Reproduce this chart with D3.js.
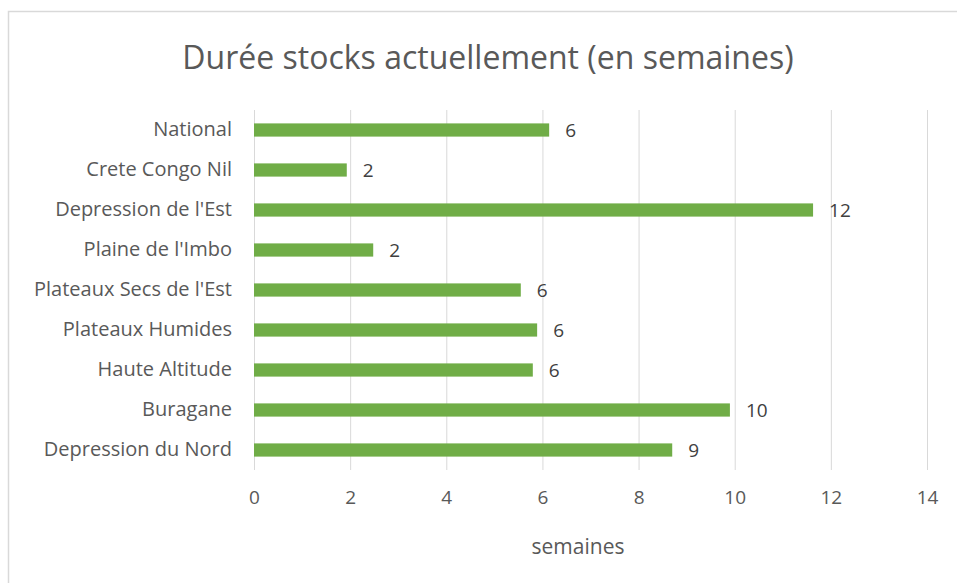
<!DOCTYPE html>
<html>
<head>
<meta charset="utf-8">
<script src="https://cdn.jsdelivr.net/npm/d3@7"></script>
<style>
  body { margin: 0; background: #fff; }
  svg { display: block; font-family: "Open Sans", sans-serif; }
</style>
</head>
<body>
<svg id="chart"></svg>
<script>
// Data (weeks of stock per zone)
const zones = [
  'National', 'Crete Congo Nil', "Depression de l'Est", "Plaine de l'Imbo",
  "Plateaux Secs de l'Est", 'Plateaux Humides', 'Haute Altitude', 'Buragane', 'Depression du Nord'
];
const weeks = [6.14, 1.93, 11.63, 2.48, 5.55, 5.89, 5.8, 9.9, 8.7];
const xTicks = [0, 2, 4, 6, 8, 10, 12, 14];

const width = 957, height = 583;
const margin = { top: 110, right: 30, bottom: 113, left: 254 };
const innerWidth = 927 - margin.left;
const innerHeight = height - margin.top - margin.bottom;

const svg = d3.select('#chart')
  .attr('width', width)
  .attr('height', height);

// chart frame (right and bottom edges fall outside the picture)
svg.append('path')
  .attr('d', `M8.5,${height}V11.5H${width}`)
  .attr('fill', 'none')
  .attr('stroke', '#d9d9d9')
  .attr('stroke-width', 1.5);

svg.append('text')
  .attr('x', 488).attr('y', 69)
  .attr('text-anchor', 'middle')
  .style('font-size', '32px')
  .style('fill', '#595959')
  .text('Durée stocks actuellement (en semaines)');

const x = d3.scaleLinear().domain([0, 14]).range([0, innerWidth]);
const y = d3.scaleBand().domain(zones).range([0, innerHeight]).paddingInner(0.67).paddingOuter(0.335);

const g = svg.append('g').attr('transform', `translate(${margin.left},${margin.top})`);

// vertical gridlines
g.selectAll('.grid')
  .data(xTicks)
  .enter().append('line')
    .attr('class', 'grid')
    .attr('x1', d => x(d) + 0.5).attr('x2', d => x(d) + 0.5)
    .attr('y1', 0).attr('y2', innerHeight)
    .attr('stroke', '#d9d9d9')
    .attr('stroke-width', 1);

// x axis labels
const xAxis = g.append('g')
  .attr('transform', `translate(0,${innerHeight})`)
  .call(d3.axisBottom(x).tickValues(xTicks).tickSize(0).tickPadding(21))
  .attr('font-size', 19)
  .attr('font-family', '"Open Sans", sans-serif');
xAxis.select('.domain').remove();
xAxis.selectAll('text').attr('fill', '#595959');

// y axis labels
const yAxis = g.append('g')
  .call(d3.axisLeft(y).tickSize(0).tickPadding(22))
  .attr('font-size', 20)
  .attr('font-family', '"Open Sans", sans-serif');
yAxis.select('.domain').remove();
yAxis.selectAll('text').attr('fill', '#595959');

// bars
g.selectAll('.bar')
  .data(zones)
  .enter().append('rect')
    .attr('class', 'bar')
    .attr('x', 0)
    .attr('y', d => y(d))
    .attr('width', (d, i) => x(weeks[i]))
    .attr('height', y.bandwidth())
    .attr('fill', '#70ad47');

// value labels
g.selectAll('.value')
  .data(zones)
  .enter().append('text')
    .attr('class', 'value')
    .attr('x', (d, i) => x(weeks[i]) + 16)
    .attr('y', d => y(d) + y.bandwidth() / 2)
    .attr('dy', '0.35em')
    .style('font-size', '19px')
    .style('fill', '#404040')
    .text((d, i) => Math.round(weeks[i]));

svg.append('text')
  .attr('x', 578).attr('y', 554)
  .attr('text-anchor', 'middle')
  .style('font-size', '21px')
  .style('fill', '#595959')
  .text('semaines');
</script>
</body>
</html>
